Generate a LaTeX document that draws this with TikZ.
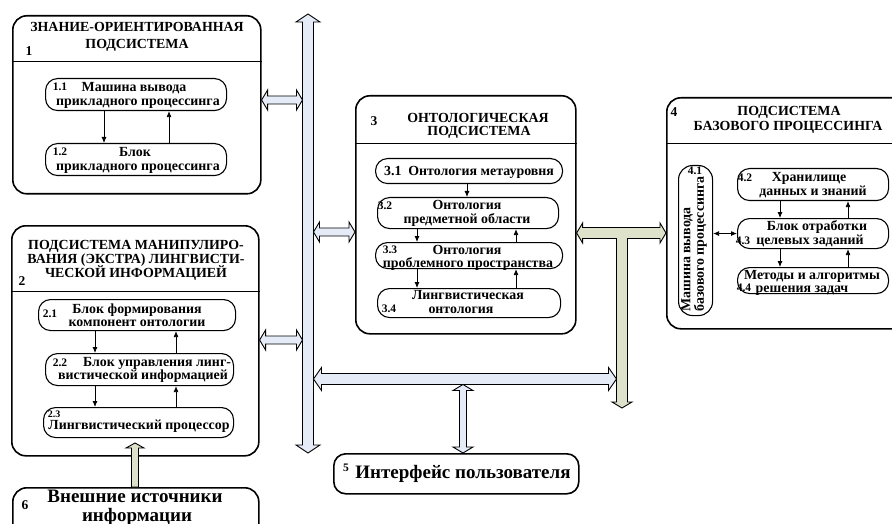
\documentclass[tikz,border=0pt]{standalone}
\usepackage{fontspec}
\setmainfont{Liberation Serif}
\usetikzlibrary{calc,arrows.meta}
\definecolor{busblue}{RGB}{229,235,247}
\definecolor{busgreen}{RGB}{222,226,203}
\tikzset{
  outerbox/.style={draw, line width=1.6pt, rounded corners=14pt, inner sep=0pt, anchor=north west},
  pill/.style={draw, line width=1.1pt, rounded corners=12pt, inner sep=0pt, anchor=north west},
  txt/.style={inner sep=0pt, font=\fontsize{13.9}{13}\selectfont\bfseries, text height=9pt, text depth=0pt},
  num/.style={inner sep=0pt, font=\fontsize{11.5}{12}\selectfont\bfseries, text height=8pt, text depth=0pt},
  boxnum/.style={inner sep=0pt, font=\fontsize{13.5}{13}\selectfont\bfseries, text height=9pt, text depth=0pt},
  smallnum/.style={inner sep=0pt, font=\fontsize{10}{11}\selectfont\bfseries, text height=7pt, text depth=0pt},
  bigtxt/.style={inner sep=0pt, font=\fontsize{19}{19}\selectfont\bfseries, text height=12.5pt, text depth=0pt},
  divider/.style={line width=0.7pt},
  sarr/.style={-{Latex[length=6pt,width=5pt]}, line width=0.8pt},
  sdarr/.style={{Latex[length=6pt,width=5pt]}-{Latex[length=6pt,width=5pt]}, line width=0.8pt},
  fatblue/.style={draw=black, line width=0.9pt, fill=busblue, line join=miter},
  fatgreen/.style={draw=black, line width=0.9pt, fill=busgreen, line join=miter},
}
% horizontal double arrow: style, left end, right end, shaft half, head half, head length
\newcommand\hdarrow[6]{%
  \filldraw[#1] let \p1=(#2), \p2=(#3) in
    (\x1,\y1) -- (\x1+#6pt,\y1+#5pt) -- (\x1+#6pt,\y1+#4pt) -- (\x2-#6pt,\y1+#4pt)
    -- (\x2-#6pt,\y1+#5pt) -- (\x2,\y1) -- (\x2-#6pt,\y1-#5pt) -- (\x2-#6pt,\y1-#4pt)
    -- (\x1+#6pt,\y1-#4pt) -- (\x1+#6pt,\y1-#5pt) -- cycle;}
% vertical double arrow: style, top end, bottom end, shaft half, head half, head length
\newcommand\vdarrow[6]{%
  \filldraw[#1] let \p1=(#2), \p2=(#3) in
    (\x1,\y1) -- (\x1+#5pt,\y1-#6pt) -- (\x1+#4pt,\y1-#6pt) -- (\x1+#4pt,\y2+#6pt)
    -- (\x1+#5pt,\y2+#6pt) -- (\x1,\y2) -- (\x1-#5pt,\y2+#6pt) -- (\x1-#4pt,\y2+#6pt)
    -- (\x1-#4pt,\y1-#6pt) -- (\x1-#5pt,\y1-#6pt) -- cycle;}
% vertical single arrow pointing up: style, tail (bottom), tip (top), shaft half, head half, head length
\newcommand\vuarrow[6]{%
  \filldraw[#1] let \p1=(#2), \p2=(#3) in
    (\x1-#4pt,\y1) -- (\x1-#4pt,\y2-#6pt) -- (\x1-#5pt,\y2-#6pt) -- (\x1,\y2)
    -- (\x1+#5pt,\y2-#6pt) -- (\x1+#4pt,\y2-#6pt) -- (\x1+#4pt,\y1) -- cycle;}
% small arrows between pills at abscissa #1
\newcommand\dn[3]{\draw[sarr] (#1,0 |- #2.south) -- (#1,0 |- #3.north);}
\newcommand\up[3]{\draw[sarr] (#1,0 |- #2.north) -- (#1,0 |- #3.south);}
\begin{document}
\begin{tikzpicture}[x=1pt,y=-1pt]
\path[use as bounding box] (0,0) rectangle (892,524);
\clip (0,0) rectangle (892,524);

% ---------- Box 1 ----------
\node[outerbox, minimum width=248pt, minimum height=178pt] (b1) at (12,15) {};
\draw[divider] (b1.west |- 0,61) -- (b1.east |- 0,61);
\node[txt] (t1a) at (137,27) {ЗНАНИЕ-ОРИЕНТИРОВАННАЯ};
\node[txt] (t1b) at (137,44) {ПОДСИСТЕМА};
\node[boxnum] (n1) at (29,51) {1};
\node[pill, minimum width=181pt, minimum height=32pt] (p11) at (45,78) {};
\node[num] (n11) at (60,87) {1.1};
\node[txt] (t11a) at (134,87) {Машина вывода};
\node[txt] (t11b) at (138,101) {прикладного процессинга};
\node[pill, minimum width=181pt, minimum height=32pt] (p12) at (45,143) {};
\node[num] (n12) at (60,152) {1.2};
\node[txt] (t12a) at (135,152) {Блок};
\node[txt] (t12b) at (138,166) {прикладного процессинга};
\dn{104}{p11}{p12}
\up{169}{p12}{p11}

% ---------- Box 2 ----------
\node[outerbox, minimum width=247pt, minimum height=230pt] (b2) at (11,225) {};
\draw[divider] (b2.west |- 0,291) -- (b2.east |- 0,291);
\node[txt] (t2a) at (136,245) {ПОДСИСТЕМА МАНИПУЛИРО-};
\node[txt] (t2b) at (136,259) {ВАНИЯ (ЭКСТРА) ЛИНГВИСТИ-};
\node[txt] (t2c) at (136,273) {ЧЕСКОЙ ИНФОРМАЦИЕЙ};
\node[boxnum] (n2) at (22,281) {2};
\node[pill, minimum width=197pt, minimum height=31pt] (p21) at (38,299) {};
\node[num] (n21) at (50,313) {2.1};
\node[txt] (t21a) at (137,308.5) {Блок формирования};
\node[txt] (t21b) at (137,321.5) {компонент онтологии};
\node[pill, minimum width=188pt, minimum height=32pt] (p22) at (45,353) {};
\node[num] (n22) at (60,362) {2.2};
\node[txt] (t22a) at (157,361.5) {Блок управления линг-};
\node[txt] (t22b) at (143,374.5) {вистической информацией};
\node[pill, minimum width=190pt, minimum height=30pt] (p23) at (43,407) {};
\node[smallnum] (n23) at (54,414) {2.3};
\node[txt] (t23) at (139,425) {Лингвистический процессор};
\dn{95}{p21}{p22}
\up{176}{p22}{p21}
\dn{95}{p22}{p23}
\up{176}{p23}{p22}

% ---------- Box 3 ----------
\node[outerbox, minimum width=220pt, minimum height=238pt] (b3) at (355,95) {};
\draw[divider] (b3.west |- 0,143) -- (b3.east |- 0,143);
\node[boxnum] (n3) at (374,121) {3};
\node[txt] (t3a) at (478,118) {ОНТОЛОГИЧЕСКАЯ};
\node[txt] (t3b) at (479,131) {ПОДСИСТЕМА};
\node[pill, minimum width=187pt, minimum height=25pt] (p31) at (375,158) {};
\node[txt] (t31) at (469,171) {3.1\enspace Онтология метауровня};
\node[pill, minimum width=181pt, minimum height=31pt] (p32) at (377,197) {};
\node[num] (n32) at (385,206) {3.2};
\node[txt] (t32a) at (467,205.5) {Онтология};
\node[txt] (t32b) at (467,219) {предметной области};
\node[pill, minimum width=187pt, minimum height=26pt] (p33) at (375,242) {};
\node[num] (n33) at (390,249.5) {3.3};
\node[txt] (t33a) at (467,249.5) {Онтология};
\node[txt] (t33b) at (468,262.5) {проблемного пространства};
\node[pill, minimum width=183pt, minimum height=29pt] (p34) at (377,288) {};
\node[txt] (t34a) at (468,295) {Лингвистическая};
\node[num] (n34) at (389,308) {3.4};
\node[txt] (t34b) at (461,308.5) {онтология};
\dn{467}{p31}{p32}
\dn{417}{p32}{p33}
\up{516}{p33}{p32}
\dn{417}{p33}{p34}
\up{516}{p34}{p33}

% ---------- Box 4 ----------
\node[outerbox, minimum width=240pt, minimum height=231pt] (b4) at (666,97) {};
\draw[divider] (b4.west |- 0,143) -- (b4.east |- 0,143);
\node[boxnum] (n4) at (674,112) {4};
\node[txt] (t4a) at (789,111.5) {ПОДСИСТЕМА};
\node[txt] (t4b) at (788,126) {БАЗОВОГО ПРОЦЕССИНГА};
\node[pill, rounded corners=14pt, minimum width=34pt, minimum height=150pt] (p41) at (678,165) {};
\node[num] (n41) at (695,171) {4.1};
\node[inner sep=0pt, font=\fontsize{13.9}{12}\selectfont\bfseries, rotate=90, anchor=west, align=left] (t41) at (694,312) {Машина вывода\\базового процессинга};
\node[pill, minimum width=151pt, minimum height=32pt] (p42) at (737,168) {};
\node[num] (n42) at (745,178) {4.2};
\node[txt] (t42a) at (809,177.5) {Хранилище};
\node[txt] (t42b) at (813,191) {данных и знаний};
\node[pill, minimum width=151pt, minimum height=30pt] (p43) at (737,218) {};
\node[txt] (t43a) at (817,226) {Блок отработки};
\node[num] (n43) at (743,240) {4.3};
\node[txt] (t43b) at (810,240) {целевых заданий};
\node[pill, minimum width=151pt, minimum height=26pt] (p44) at (737,267) {};
\node[txt] (t44a) at (812,275) {Методы и алгоритмы};
\node[num] (n44) at (744,287) {4.4};
\node[txt] (t44b) at (802,287.5) {решения задач};
\dn{780}{p42}{p43}
\up{848}{p43}{p42}
\dn{780}{p43}{p44}
\up{848}{p44}{p43}
\draw[sdarr] (p41.east |- p43.west) -- (p43.west);

% ---------- Box 5 ----------
\node[outerbox, rounded corners=12pt, minimum width=245pt, minimum height=40pt] (b5) at (333,453) {};
\node[num] (n5) at (346,467) {5};
\node[bigtxt] (t5) at (463,472) {Интерфейс пользователя};

% ---------- Box 6 ----------
\node[outerbox, minimum width=246pt, minimum height=60pt] (b6) at (12,487) {};
\node[boxnum] (n6) at (25,505) {6};
\node[bigtxt] (t6a) at (135,496) {Внешние источники};
\node[bigtxt] (t6b) at (137,515) {информации};

% ---------- buses ----------
\coordinate (busT) at (308,14);
\coordinate (busB) at (308,453);
\coordinate (busL) at (302.5,0);
\coordinate (busR) at (313.5,0);
\coordinate (stemT) at (622,233);
\coordinate (stemB) at (622,408);
\coordinate (stemL) at (616.5,0);
\coordinate (hbus) at (0,379);

\vdarrow{fatblue}{busT}{busB}{5.5}{12}{8}
\hdarrow{fatblue}{b1.east |- 0,100}{busL |- 0,100}{4}{10}{6}
\hdarrow{fatblue}{b2.east |- 0,340}{busL |- 0,340}{4}{10}{6}
\hdarrow{fatblue}{busR |- 0,232}{b3.west |- 0,232}{4}{10}{6}

% green T connector between box 3 and box 4
\filldraw[fatgreen] let \p1=(b3.east |- stemT), \p2=(b4.west |- stemT), \p3=(stemB) in
  (\x1,\y1) -- (\x1+6pt,\y1+10pt) -- (\x1+6pt,\y1+5.5pt) -- (\x2-6pt,\y1+5.5pt)
  -- (\x2-6pt,\y1+10pt) -- (\x2,\y1) -- (\x2-6pt,\y1-10pt) -- (\x2-6pt,\y1-5.5pt)
  -- (\x3+5.5pt,\y1-5.5pt) -- (\x3+5.5pt,\y3+6pt) -- (\x3+10pt,\y3+6pt) -- (\x3,\y3)
  -- (\x3-10pt,\y3+6pt) -- (\x3-5.5pt,\y3+6pt) -- (\x3-5.5pt,\y1-5.5pt)
  -- (\x1+6pt,\y1-5.5pt) -- (\x1+6pt,\y1-10pt) -- cycle;

\hdarrow{fatblue}{busR |- hbus}{stemL |- hbus}{5.5}{11.5}{8}
\coordinate (a5t) at (463,384.5);
\vdarrow{fatblue}{a5t}{a5t |- b5.north}{3.5}{10}{6}

% external sources to box 2
\coordinate (a6) at (135,443);
\vuarrow{fatgreen}{a6 |- b6.north}{a6}{3.5}{9}{5}
\end{tikzpicture}
\end{document}
